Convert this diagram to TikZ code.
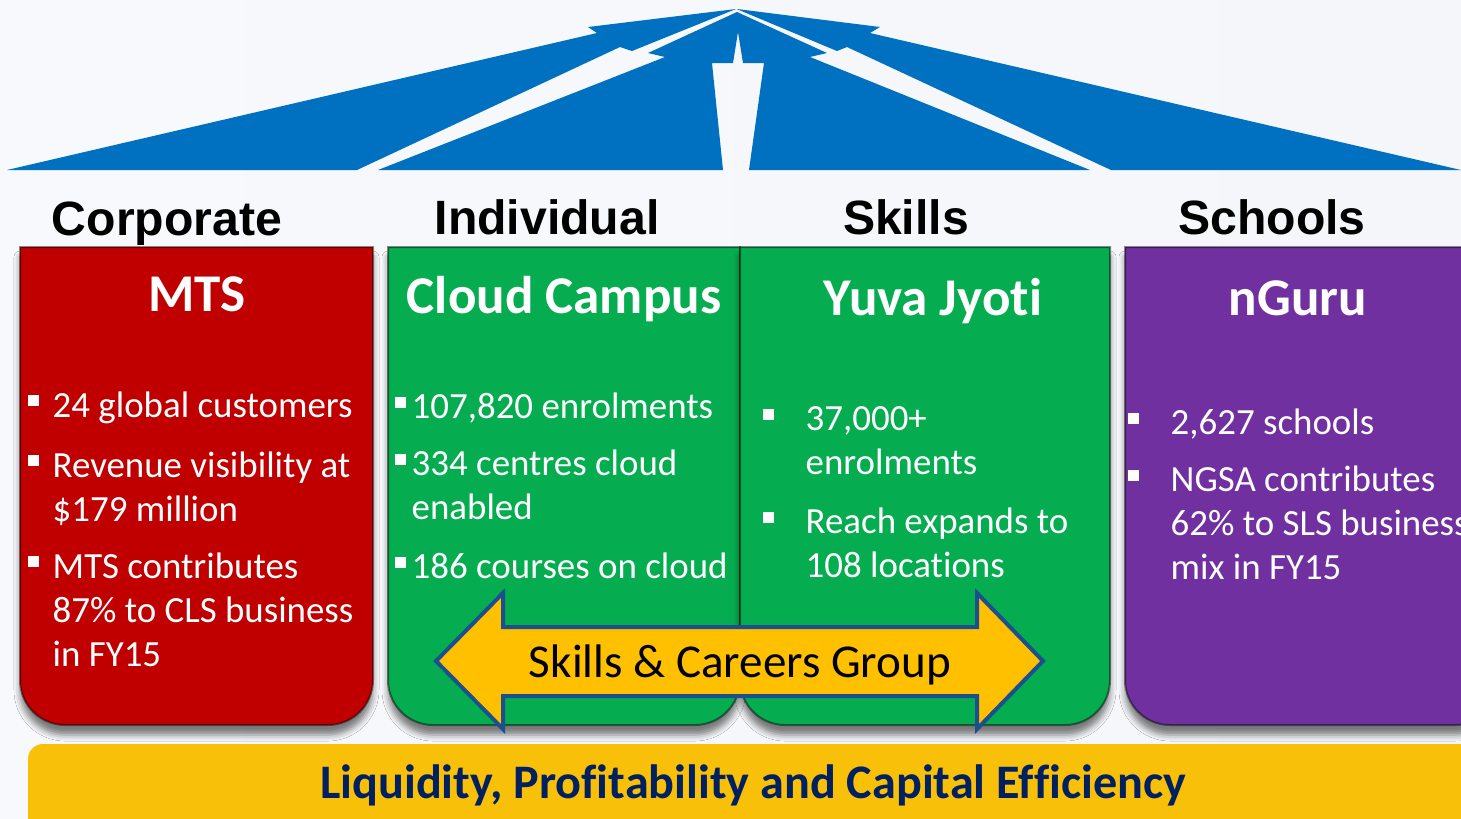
\documentclass[tikz,border=0pt]{standalone}
\usepackage{fontspec}
\setmainfont{Carlito}[Ligatures=NoCommon]
\newfontfamily\arialfont{Liberation Sans}
\usepackage{tikz}
\usetikzlibrary{positioning, shadows.blur}

\definecolor{bgleft}{HTML}{F8F9FC}
\definecolor{bgmid}{HTML}{EEF2F6}
\definecolor{bgright}{HTML}{F4F6F9}
\definecolor{roofblue}{HTML}{0070C0}
\definecolor{mtsred}{HTML}{C00000}
\definecolor{sclgreen}{HTML}{06AD50}
\definecolor{nguru}{HTML}{7030A0}
\definecolor{scgyellow}{HTML}{FFC000}
\definecolor{scgblue}{HTML}{1B4F8F}
\definecolor{baryellow}{HTML}{F9C00A}
\definecolor{navy}{HTML}{002060}

\begin{document}
\begin{tikzpicture}[x=0.1mm, y=-0.1mm,
    head/.style={font=\arialfont\bfseries\fontsize{13.7pt}{16pt}\selectfont, anchor=base, inner sep=0pt},
    title/.style={font=\bfseries\fontsize{15.1pt}{18pt}\selectfont, text=white, anchor=base, inner sep=0pt},
    item/.style={font=\fontsize{10.5pt}{12.66pt}\selectfont, text=white, anchor=base west, inner sep=0pt},
    dot/.style={fill=white},
    panel/.style={draw=black, draw opacity=0.45, line width=0.2mm,
        blur shadow={shadow xshift=0mm, shadow yshift=-1mm, shadow blur radius=0.6mm, shadow opacity=50}},
    band/.style={fill=scgyellow, draw=scgblue, line width=0.4mm, line join=miter}
]
\useasboundingbox (0,0) rectangle (1461,818);
\clip (0,0) rectangle (1461,818);
\shade[left color=bgleft, middle color=bgmid, right color=bgright] (0,0) rectangle (1461,818);

% roof made of arrows meeting at the top
\fill[roofblue] (7,170) -- (597,33) -- (588,27) -- (736,9) -- (632,51) -- (620,47) -- (357,170) -- cycle;
\fill[roofblue] (378,170) -- (665,57) -- (648,53) -- (737,12) -- (827,53) -- (810,57) -- (1090,170)
    -- (749,170) -- (764,63) -- (743,63) -- (738,32) -- (733,63) -- (712,63) -- (723,170) -- cycle;
\fill[roofblue] (1111,170) -- (847,47) -- (837,51) -- (739,10) -- (737,9) -- (880,27) -- (870,33) -- (1461,170) -- cycle;

% segment headings
\node[head] (corp) at (167,235) {Corporate};
\node[head] (indiv) at (547,234) {Individual};
\node[head] (skills) at (906,234) {Skills};
\node[head] (schools) at (1272,234) {Schools};

% business panels, square on top and round at the bottom
\draw[panel, fill=mtsred] (20,247) -- (373,247) [rounded corners=4.5mm] -- (373,725) -- (20,725) [sharp corners] -- cycle;
\draw[panel, fill=sclgreen] (388,247) -- (740,247) [rounded corners=4.5mm] -- (740,725) -- (388,725) [sharp corners] -- cycle;
\draw[panel, fill=sclgreen] (740,247) -- (1110,247) [rounded corners=4.5mm] -- (1110,725) -- (740,725) [sharp corners] -- cycle;
\draw[panel, fill=nguru] (1125,247) -- (1500,247) [rounded corners=4.5mm] -- (1500,725) -- (1125,725) [sharp corners] -- cycle;

\node[title] (mts) at (197,311) {MTS};
\node[title] (cloud) at (564,313) {Cloud Campus};
\node[title] (yuva) at (933,315) {Yuva Jyoti};
\node[title] (ng) at (1298,315) {nGuru};

% bullet points
\node[item] (mts1) at (52,417) {24 global customers};
\node[item] (mts2) at (52,477) {\parbox[t]{8cm}{Revenue visibility at\\\$179 million}};
\node[item] (mts3) at (52,578) {\parbox[t]{8cm}{MTS contributes\\87\% to CLS business\\in FY15}};
\node[item] (cc1) at (411,418) {107,820 enrolments};
\node[item] (cc2) at (411,475) {\parbox[t]{8cm}{334 centres cloud\\enabled}};
\node[item] (cc3) at (411,578) {186 courses on cloud};
\node[item] (yj1) at (805,430) {\parbox[t]{8cm}{37,000+\\enrolments}};
\node[item] (yj2) at (805,533) {\parbox[t]{8cm}{Reach expands to\\108 locations}};
\node[item] (ng1) at (1170,434) {2,627 schools};
\node[item] (ng2) at (1170,491) {\parbox[t]{8cm}{NGSA contributes\\62\% to SLS business\\mix in FY15}};

\foreach \n in {mts1, mts2, mts3}
    \fill[dot] ([shift={(-24,-22)}]\n.base west) rectangle +(11,11);
\foreach \n in {cc1, cc2, cc3}
    \fill[dot] ([shift={(-16,-21)}]\n.base west) rectangle +(11,11);
\foreach \n in {yj1, yj2, ng1, ng2}
    \fill[dot] ([shift={(-42,-21)}]\n.base west) rectangle +(11,11);

% double arrow across the two green panels
\filldraw[band] (436,661) -- (503,593) -- (503,627) -- (977,627) -- (977,593) -- (1043,661)
    -- (977,729) -- (977,696) -- (503,696) -- (503,729) -- cycle;
\node[font=\fontsize{13.4pt}{16pt}\selectfont, anchor=base, inner sep=0pt] (scg) at (740,677) {Skills \& Careers Group};

% base bar
\fill[baryellow, rounded corners=1.5mm] (28,744) rectangle (1520,880);
\node[font=\bfseries\fontsize{13.7pt}{16pt}\selectfont, text=navy, anchor=base, inner sep=0pt] (base) at (753,798)
    {Liquidity, Profitability and Capital Efficiency};
\end{tikzpicture}
\end{document}
